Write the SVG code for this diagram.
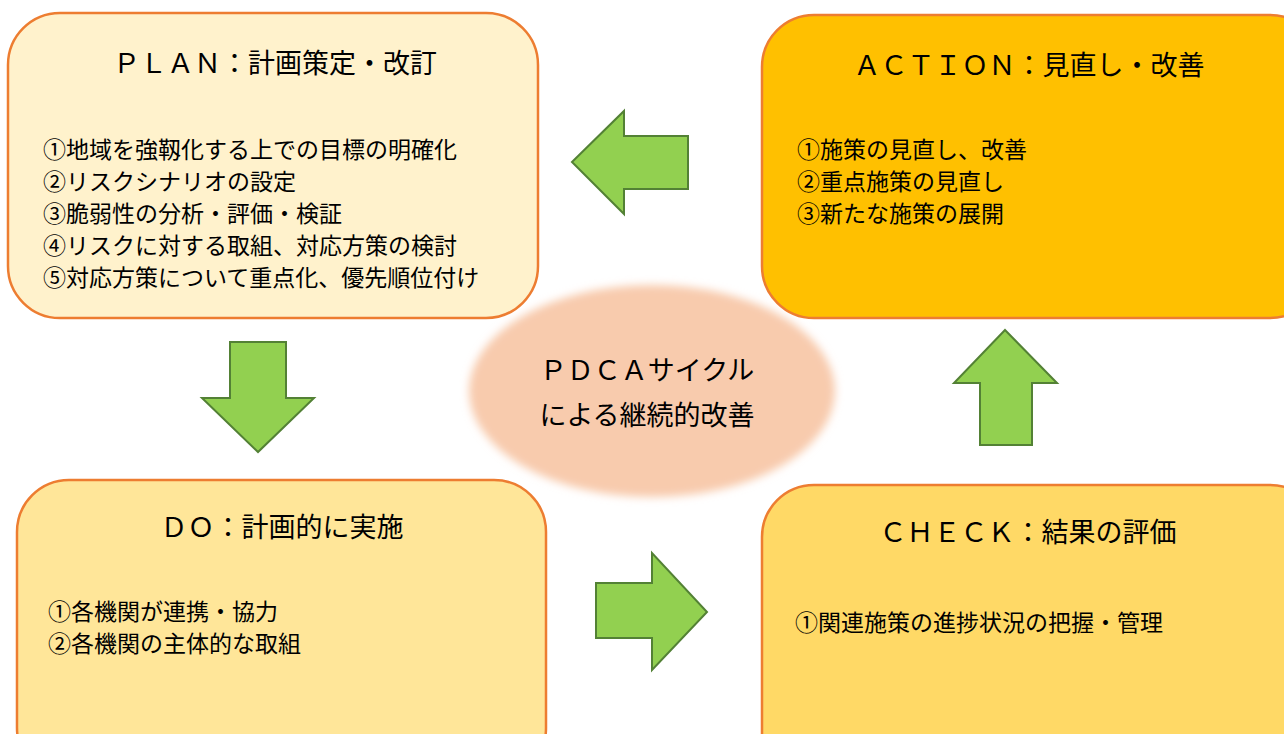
<svg xmlns="http://www.w3.org/2000/svg" width="1284" height="734" viewBox="0 0 1284 734">
<style>
.box{stroke:#ED7D31;stroke-width:2.5}
.title{font-family:"Noto Sans CJK JP","Noto Sans CJK SC",sans-serif;font-size:27px;fill:#000;text-anchor:middle}
.body{font-family:"Noto Sans CJK JP","Noto Sans CJK SC",sans-serif;font-size:23px;fill:#000}
.arrow{fill:#92D050;stroke:#538135;stroke-width:2}
</style>
<defs>
<filter id="soft" x="-10%" y="-10%" width="120%" height="120%"><feGaussianBlur stdDeviation="4"/></filter>
</defs>
<rect width="1284" height="734" fill="#fff"/>
<g id="center">
<ellipse cx="652" cy="391" rx="183" ry="106" fill="#F8CBAD" filter="url(#soft)"/>
<text class="title" x="647" y="380">ＰＤＣＡサイクル</text>
<text class="title" x="647" y="425">による継続的改善</text>
</g>
<g id="plan">
<rect class="box" x="8" y="13" width="530" height="305" rx="52" fill="#FFF2CC"/>
<text class="title" x="275" y="73">ＰＬＡＮ：計画策定・改訂</text>
<text class="body" x="43" y="158">①地域を強靱化する上での目標の明確化</text>
<text class="body" x="43" y="190">②リスクシナリオの設定</text>
<text class="body" x="43" y="222">③脆弱性の分析・評価・検証</text>
<text class="body" x="43" y="254">④リスクに対する取組、対応方策の検討</text>
<text class="body" x="43" y="286">⑤対応方策について重点化、優先順位付け</text>
</g>
<g id="action">
<rect class="box" x="762" y="15" width="560" height="303" rx="52" fill="#FFC000"/>
<text class="title" x="1029" y="75">ＡＣＴＩＯＮ：見直し・改善</text>
<text class="body" x="797" y="158">①施策の見直し、改善</text>
<text class="body" x="797" y="190">②重点施策の見直し</text>
<text class="body" x="797" y="222">③新たな施策の展開</text>
</g>
<g id="do">
<rect class="box" x="17" y="480" width="529" height="300" rx="52" fill="#FFE699"/>
<text class="title" x="282" y="537">ＤＯ：計画的に実施</text>
<text class="body" x="48" y="620">①各機関が連携・協力</text>
<text class="body" x="48" y="652">②各機関の主体的な取組</text>
</g>
<g id="check">
<rect class="box" x="762" y="485" width="560" height="300" rx="52" fill="#FFD966"/>
<text class="title" x="1028" y="542">ＣＨＥＣＫ：結果の評価</text>
<text class="body" x="795" y="631">①関連施策の進捗状況の把握・管理</text>
</g>
<g id="connectors">
<polygon class="arrow" points="572,162 624,111 624,136 688,136 688,189 624,189 624,214"/>
<polygon class="arrow" points="230,342 286,342 286,398 314,398 258,452 202,398 230,398"/>
<polygon class="arrow" points="596,583 652,583 652,553 707,612 652,670 652,638 596,638"/>
<polygon class="arrow" points="1005,330 1057,383 1032,383 1032,445 980,445 980,383 954,383"/>
</g>
</svg>
